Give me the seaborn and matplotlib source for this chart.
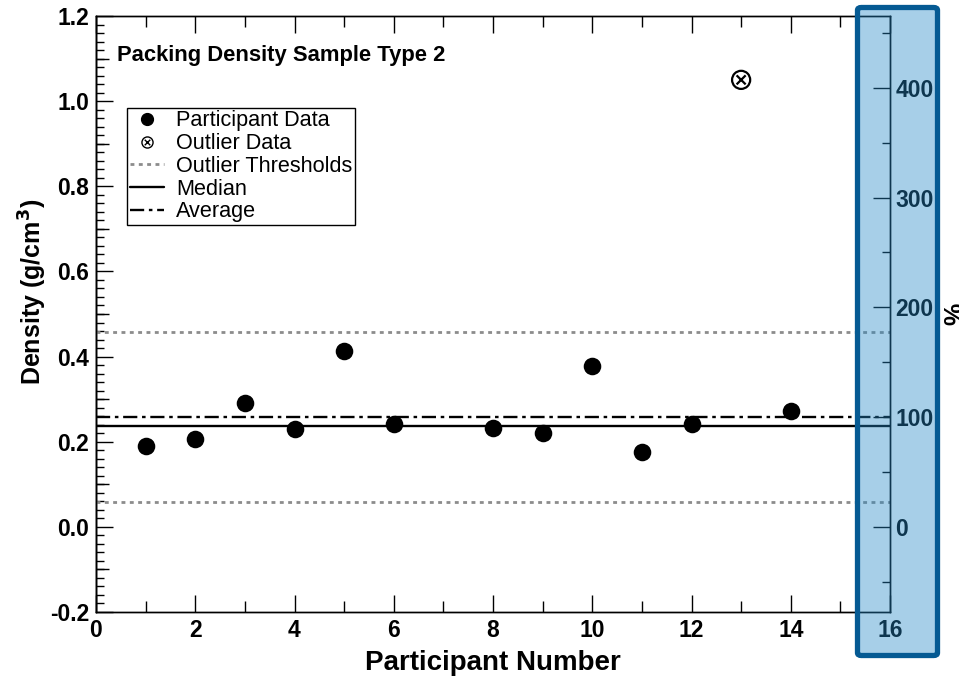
import numpy as np
import pandas as pd
import matplotlib
matplotlib.use("Agg")
import matplotlib.pyplot as plt
import seaborn as sns
from matplotlib.path import Path
from matplotlib.lines import Line2D
from matplotlib.patches import FancyBboxPatch
from matplotlib.ticker import MultipleLocator, FixedLocator, NullFormatter, FormatStrFormatter

# Packing density measurements, sample type 2
participant = [1, 2, 3, 4, 5, 6, 8, 9, 10, 11, 12, 14]
density = [0.191, 0.207, 0.291, 0.230, 0.412, 0.242, 0.232, 0.220, 0.378, 0.176, 0.242, 0.273]
outlier_participant = [13]
outlier_density = [1.050]
threshold_offset = 0.2  # g/cm^3 either side of the average

average = float(np.mean(density))
median = float(np.median(density))
lower_thr = average - threshold_offset
upper_thr = average + threshold_offset

df = pd.DataFrame({"Participant": participant, "Density": density})
df_out = pd.DataFrame({"Participant": outlier_participant, "Density": outlier_density})

sns.set_style("ticks")
plt.rcParams["font.family"] = ["Liberation Sans", "DejaVu Sans"]
plt.rcParams.update({
    "axes.linewidth": 1.0,
    "axes.edgecolor": "black",
    "text.color": "black",
    "axes.labelcolor": "black",
    "xtick.color": "black",
    "ytick.color": "black",
})

fig = plt.figure(figsize=(9.59, 6.78), dpi=100)
ax = fig.add_axes([96 / 959, 66 / 678, 794 / 959, 596 / 678])

# circle with a cross inside, for outliers
circ = Path.unit_circle()
cross = Path([(-0.5, -0.5), (0.5, 0.5), (-0.5, 0.5), (0.5, -0.5)],
             [Path.MOVETO, Path.LINETO, Path.MOVETO, Path.LINETO])
otimes = Path.make_compound_path(circ, cross)

dotted = (0, (1.4, 1.6))
dashdot = (0, (6, 2, 1.5, 2))

# reference lines
ax.axhline(upper_thr, color="#8c8c8c", lw=2.0, ls=dotted, zorder=2)
ax.axhline(lower_thr, color="#8c8c8c", lw=2.0, ls=dotted, zorder=2)
ax.axhline(median, color="black", lw=1.7, ls="-", zorder=2)
ax.axhline(average, color="black", lw=1.7, ls=dashdot, zorder=2)

sns.scatterplot(data=df, x="Participant", y="Density", ax=ax, s=160,
                color="black", edgecolor="black", linewidth=0, zorder=3, legend=False)
sns.scatterplot(data=df_out, x="Participant", y="Density", ax=ax, s=170,
                marker=otimes, facecolors="none", edgecolor="black", color="black",
                linewidth=1.6, zorder=3, legend=False)

ax.set_xlim(0, 16)
ax.set_ylim(-0.2, 1.2)
ax.xaxis.set_major_locator(MultipleLocator(2))
ax.xaxis.set_minor_locator(MultipleLocator(1))
ax.yaxis.set_major_locator(MultipleLocator(0.2))
ax.yaxis.set_minor_locator(MultipleLocator(0.02))
ax.yaxis.set_major_formatter(FormatStrFormatter("%.1f"))
ax.tick_params(axis="x", which="both", direction="in", top=True, bottom=True)
ax.tick_params(axis="y", which="both", direction="in", left=True, right=False)
ax.tick_params(which="major", length=12, width=1.0, labelsize=16.5, pad=5)
ax.tick_params(axis="x", which="minor", length=8, width=1.0)
ax.tick_params(axis="y", which="minor", length=6, width=1.0)
for lab in ax.get_xticklabels() + ax.get_yticklabels():
    lab.set_fontweight("bold")

# medium ticks at the odd tenths
sec = ax.secondary_yaxis("left")
sec.yaxis.set_major_locator(FixedLocator([-0.1, 0.1, 0.3, 0.5, 0.7, 0.9, 1.1]))
sec.yaxis.set_major_formatter(NullFormatter())
sec.tick_params(direction="in", length=9, width=1.0, colors="black")

ax.set_xlabel("Participant Number", fontsize=20, fontweight="bold", labelpad=6)
ax.set_ylabel("Density (g/cm$^\\mathbf{3}$)", fontsize=18, fontweight="bold")
ax.yaxis.set_label_coords(-0.059, 0.537)

ax.text(0.026, 0.934, "Packing Density Sample Type 2", transform=ax.transAxes,
        fontsize=15.8, fontweight="bold", va="center", ha="left")

# percentage-of-average axis
ax2 = ax.twinx()
ax2.set_ylim(-0.2 / average * 100, 1.2 / average * 100)
ax2.yaxis.set_major_locator(FixedLocator([0, 100, 200, 300, 400]))
ax2.yaxis.set_minor_locator(FixedLocator([-50, 50, 150, 250, 350, 450]))
ax2.tick_params(axis="y", which="both", direction="in", right=True, left=False)
ax2.tick_params(axis="y", which="major", length=12, width=1.0, labelsize=16.5, pad=4)
ax2.tick_params(axis="y", which="minor", length=6, width=1.0)
for lab in ax2.get_yticklabels():
    lab.set_fontweight("bold")
ax2.set_ylabel("%", fontsize=18, fontweight="bold")
ax2.yaxis.set_label_coords(1.0 + 53 / 794, 0.5)

handles = [
    Line2D([], [], ls="none", marker="o", color="black", markersize=8.5),
    Line2D([], [], ls="none", marker=otimes, markerfacecolor="none",
           markeredgecolor="black", markersize=8, markeredgewidth=1.0),
    Line2D([], [], color="#8c8c8c", lw=2.0, ls=dotted),
    Line2D([], [], color="black", lw=1.7),
    Line2D([], [], color="black", lw=1.7, ls=dashdot),
]
labels = ["Participant Data", "Outlier Data", "Outlier Thresholds", "Median", "Average"]
leg = ax.legend(handles, labels, loc="upper left", bbox_to_anchor=(0.039, 0.846),
                borderaxespad=0, fontsize=15.6, frameon=True, fancybox=False,
                handlelength=1.6, handletextpad=0.55, labelspacing=0.08,
                borderpad=0.12)
leg.get_frame().set_edgecolor("black")
leg.get_frame().set_linewidth(1.0)
leg.get_frame().set_alpha(1)

# highlighted band over the right-hand axis
W, H = 959, 678
x0, x1, ytop, ybot = 857.5, 937.5, 7.5, 655.5
box_kw = dict(boxstyle="round,pad=0,rounding_size=0.004", transform=fig.transFigure)
fill = FancyBboxPatch((x0 / W, (H - ybot) / H), (x1 - x0) / W, (ybot - ytop) / H,
                      facecolor="#2589c6", alpha=0.40, edgecolor="none", zorder=20, **box_kw)
border = FancyBboxPatch((x0 / W, (H - ybot) / H), (x1 - x0) / W, (ybot - ytop) / H,
                        facecolor="none", edgecolor="#055a93", lw=3.8, zorder=21, **box_kw)
fig.add_artist(fill)
fig.add_artist(border)

fig.savefig("out.png", dpi=100)
